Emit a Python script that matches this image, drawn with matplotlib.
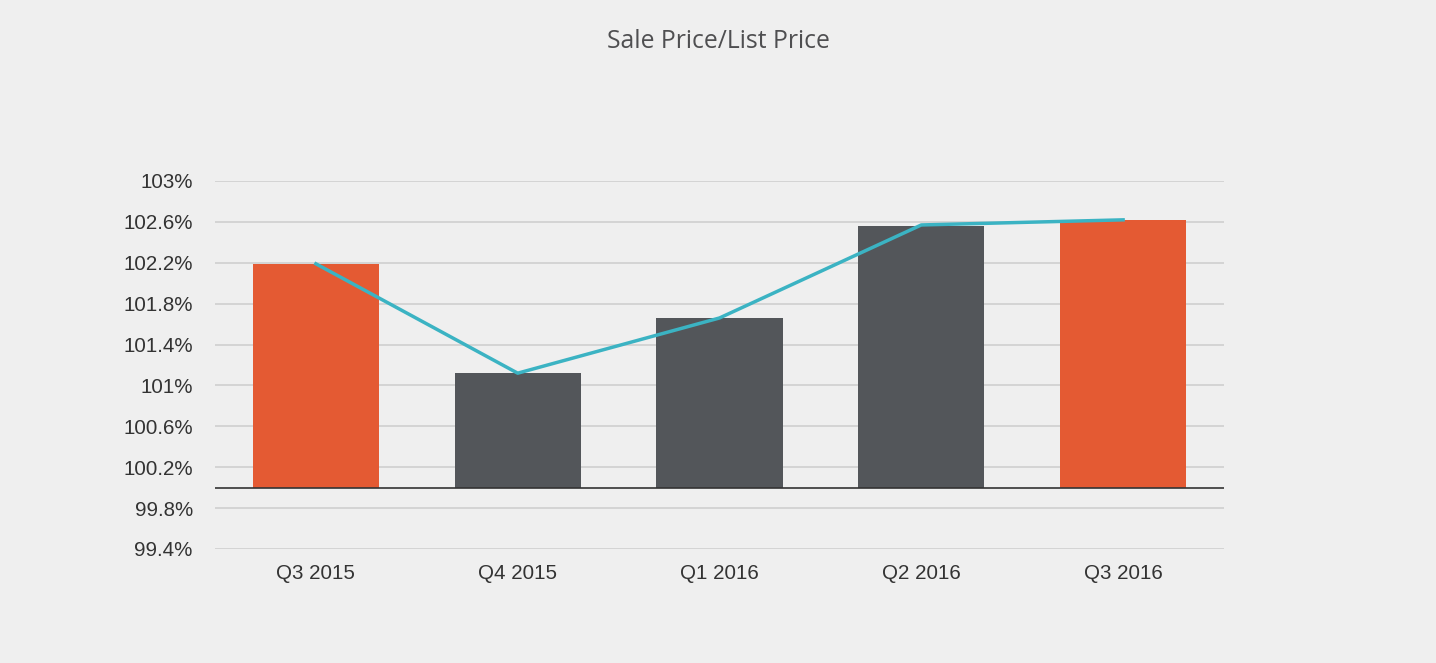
import matplotlib
matplotlib.use('Agg')
from matplotlib import pyplot as plt

quarters = ['Q3 2015', 'Q4 2015', 'Q1 2016', 'Q2 2016', 'Q3 2016']
bar_values = [102.19, 101.12, 101.66, 102.56, 102.62]
line_values = [102.19, 101.12, 101.66, 102.57, 102.62]
bar_colors = ['#E45A33', '#53565A', '#53565A', '#53565A', '#E45A33']
y_ticks = [99.4, 99.8, 100.2, 100.6, 101, 101.4, 101.8, 102.2, 102.6, 103]
y_labels = ['99.4%', '99.8%', '100.2%', '100.6%', '101%', '101.4%',
            '101.8%', '102.2%', '102.6%', '103%']

bg = '#EFEFEF'
fig = plt.figure(figsize=(14.36, 6.63), dpi=100, facecolor=bg)
ax = fig.add_axes([215/1436, 1-549/663, (1224-215)/1436, (549-181)/663])
ax.set_facecolor(bg)

x = list(range(len(quarters)))
heights = [v - 100 for v in bar_values]
ax.bar(x, heights, bottom=100, width=0.625, color=bar_colors, zorder=2)
ax.plot(x, line_values, color='#3BB3C3', lw=2.5, zorder=3)
ax.axhline(100, color='#333333', lw=1.2, zorder=4)

ax.set_xlim(-0.5, 4.5)
ax.set_ylim(99.4, 103)
ax.set_yticks(y_ticks)
ax.set_yticklabels(y_labels)
ax.set_xticks(x)
ax.set_xticklabels(quarters)
ax.grid(axis='y', color='#CFCFCF', lw=1.2, zorder=0)
ax.set_axisbelow(True)
for s in ax.spines.values():
    s.set_visible(False)
ax.tick_params(length=0, labelsize=14.8, colors='#333333', labelfontfamily='Liberation Sans')
ax.tick_params(axis='y', pad=16)
ax.tick_params(axis='x', pad=11)

fig.text(718/1436, 1-42/663, 'Sale Price/List Price', ha='center', va='center',
         fontsize=17.8, color='#4F4F51', family='Open Sans', fontweight='medium')

fig.savefig('out.png', dpi=100, facecolor=bg)
